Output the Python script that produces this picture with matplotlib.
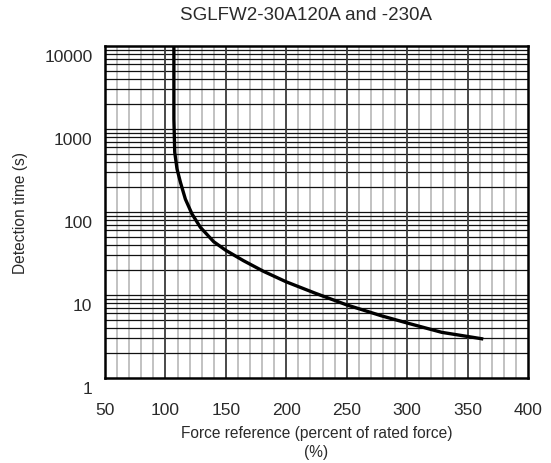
import numpy as np
import matplotlib
matplotlib.use("Agg")
import matplotlib.pyplot as plt
from matplotlib.transforms import ScaledTranslation

# ---- data ----
title = "SGLFW2-30A120A and -230A"
force_pct = [107, 107, 107.7, 109.6, 112.4, 116.5, 122, 128.9, 139.9, 150,
             164.6, 181.1, 200, 224, 250, 279, 300, 328.6, 363]
detect_s = [10000, 1320, 524, 330, 228, 143, 94.6, 65.4, 43.9, 34.5,
            25.9, 19.3, 14.4, 10.5, 7.6, 5.6, 4.6, 3.55, 2.95]
x_ticks = [50, 100, 150, 200, 250, 300, 350, 400]
y_ticks = [1, 10, 100, 1000, 10000]
y_ticklabels = ["1", "10", "100", "1000", "10000"]
xlabel = "Force reference (percent of rated force)\n(%)"
ylabel = "Detection time (s)"

plt.rcParams['font.family'] = ['Liberation Sans', 'DejaVu Sans']
txt_color = "#2a2a2a"

fig = plt.figure(figsize=(5.51, 4.64), dpi=100)
ax = fig.add_axes([105/551, 1-379/464, (528-105)/551, (379-47)/464])

ax.set_yscale('log')
ax.set_xlim(50, 400)
ax.set_ylim(1, 10000)

# grid: minor x every 10 (gray), major x every 50 (dark)
for xv in range(60, 400, 10):
    if xv % 50 == 0:
        ax.axvline(xv, color="#3a3a3a", lw=1.3, zorder=2)
    else:
        ax.axvline(xv, color="#bdbdbd", lw=1.3, zorder=1)
for dec in [1, 10, 100, 1000]:
    for m in range(1, 10):
        v = dec * m
        if v <= 1:
            continue
        ax.axhline(v, color="#111111", lw=0.9, zorder=1.5)

ax.plot(force_pct, detect_s, color="black", lw=2.4, zorder=4,
        solid_capstyle='butt', solid_joinstyle='round')

for s in ax.spines.values():
    s.set_linewidth(1.8)
    s.set_color("black")
    s.set_zorder(5)

ax.set_xticks(x_ticks)
ax.set_xticklabels([str(v) for v in x_ticks])
ax.set_yticks(y_ticks)
ax.set_yticklabels(y_ticklabels)
ax.yaxis.set_minor_locator(matplotlib.ticker.NullLocator())
ax.tick_params(axis='both', length=0, labelsize=12.5, colors=txt_color)
ax.tick_params(axis='x', pad=17)
ax.tick_params(axis='y', pad=9)

offset = ScaledTranslation(0, -9/100, fig.dpi_scale_trans)
for lbl in ax.get_yticklabels():
    lbl.set_transform(lbl.get_transform() + offset)

ax.set_xlabel(xlabel, fontsize=11.2, color=txt_color, labelpad=6, linespacing=1.35)
ax.set_ylabel(ylabel, fontsize=11.2, color=txt_color, labelpad=12)

fig.text(306/551, 1-15/464, title, ha='center', va='center', fontsize=13.5, color=txt_color)

fig.savefig("out.png", dpi=100)
